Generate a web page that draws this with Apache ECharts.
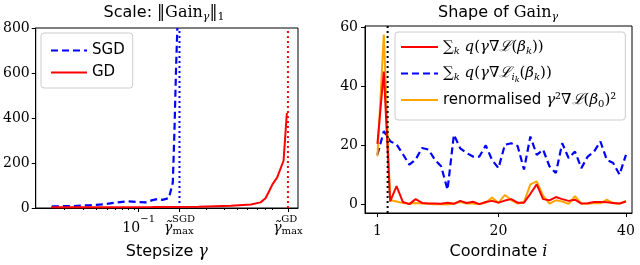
<!DOCTYPE html>
<html><head><meta charset="utf-8">
<script src="https://cdn.jsdelivr.net/npm/echarts@6/dist/echarts.min.js"></script>
<style>html,body{margin:0;padding:0;background:#fff}#c{width:640px;height:265px}</style>
</head><body><div id="c"></div>
<script>
// ---------- Left panel: Scale ||Gain||_1 vs stepsize (x stored as log10 of stepsize) ----------
const sgdLogGamma = [-1.818,-1.611,-1.472,-1.333,-1.213,-1.102,-1.009,-0.935,-0.870,-0.824,-0.778,-0.716,-0.679,-0.664,-0.648,-0.636];
const sgdGain     = [7,9,12,16,24,30,26,25,35,40,36,44,113,334,628,800];
const gdLogGamma  = [-1.827,-1.333,-0.870,-0.438,-0.130,0.056,0.148,0.194,0.234,0.259,0.303,0.364,0.395];
const gdGain      = [3,3.5,4,6,10,16,25,43,80,105,135,210,422];
const logGammaMaxSGD = -0.616;
const logGammaMaxGD  = 0.405;
const logTenMinusOne = -1;
const leftMinorTicks = [-1.699,-1.523,-1.398,-1.301,-1.222,-1.155,-1.097,-1.046,-0.368,-0.197,-0.074,0.025,0.118,0.194,0.262];
const leftYTicks = [0,200,400,600,800];

// ---------- Right panel: Shape of Gain ----------
const coords = [1,2,3,4,5,6,7,8,9,10,11,12,13,14,15,16,17,18,19,20,21,22,23,24,25,26,27,28,29,30,31,32,33,34,35,36,37,38,39,40];
const fullGrad  = [20.5,45,1.0,6.2,0.8,0.1,1.8,0.5,0.3,0.3,0.2,0.6,0.2,1.2,0.5,0.9,0.1,0.8,1.2,0.6,1.3,1.8,0.6,0.6,3.6,6.8,1.8,1.4,2.5,1.8,1.2,1.6,0.3,0.4,0.8,0.8,0.7,0.5,0.3,1.0];
const stochGrad = [16.8,24.8,21.4,20.3,17.0,13.5,15.2,19.1,18.6,15.2,12.9,5.0,23.6,19.0,17.4,16.2,16.2,20.0,15.0,12.3,20.2,20.7,19.8,11.8,23.0,16.8,18.5,12.9,10.6,20.7,15.7,17.9,12.3,16.2,17.9,21.3,15.1,14.0,10.1,16.8];
const renormGrad = [16.3,57.5,1.5,1.0,0.5,0.2,0.5,0.3,0.2,0.1,0.1,0.0,0.3,0.8,0.3,0.3,0.1,0.6,2.3,0.5,3.2,1.5,0.3,0.8,6.8,7.8,3.0,0.3,1.4,1.0,0.2,2.8,0.3,0.2,0.5,0.4,1.6,0.4,0.2,1.2];
const cutoffCoord = 2.6;
const rightXTicks = [1,20,40];
const rightYTicks = [0,20,40,60];

const serif = 'DejaVu Serif', sans = 'DejaVu Sans';
const zip = (a,b) => a.map((v,i)=>[v,b[i]]);
const near = (a,b) => Math.abs(a-b) < 1e-6;

const chart = echarts.init(document.getElementById('c'), null, {renderer:'canvas'});

const axisCommon = {
  axisLine:{show:true, onZero:false, lineStyle:{color:'#000', width:1}},
  axisTick:{show:true, length:4, lineStyle:{color:'#000', width:1}},
  splitLine:{show:false}
};
const tickFont = {fontFamily:serif, fontSize:14, color:'#000'};
const N = {fontWeight:'normal', color:'#000'};

const titleRich = {
  s:Object.assign({fontFamily:sans, fontSize:16, lineHeight:20}, N),
  m:Object.assign({fontFamily:serif, fontSize:16, lineHeight:20}, N),
  sbi:Object.assign({fontFamily:serif, fontStyle:'italic', fontSize:11, lineHeight:11, padding:[9,0,0,0]}, N),
  sb:Object.assign({fontFamily:serif, fontSize:11, lineHeight:11, padding:[9,0,0,0]}, N)
};

const legRich = {
  t:Object.assign({fontFamily:sans, fontSize:15, lineHeight:18}, N),
  m:Object.assign({fontFamily:serif, fontSize:15, lineHeight:18}, N),
  mi:Object.assign({fontFamily:serif, fontStyle:'italic', fontSize:15, lineHeight:18}, N),
  sb:Object.assign({fontFamily:serif, fontStyle:'italic', fontSize:10, lineHeight:10, padding:[8,0,0,0]}, N),
  sb0:Object.assign({fontFamily:serif, fontSize:10, lineHeight:10, padding:[8,0,0,0]}, N),
  ssb:Object.assign({fontFamily:serif, fontStyle:'italic', fontSize:8, lineHeight:8, padding:[13,0,0,0]}, N)
};
const legendText = {
  full:  '{m|∑}{sb|k}{mi| q}{m|(}{mi|γ}{m|∇}{mi|ℒ}{m|(}{mi|β}{sb|k}{m|))}',
  stoch: '{m|∑}{sb|k}{mi| q}{m|(}{mi|γ}{m|∇}{mi|ℒ}{sb|i}{ssb|k}{m|(}{mi|β}{sb|k}{m|))}',
  renorm:'{t|renormalised }{mi|γ}{m|²∇}{mi|ℒ}{m|(}{mi|β}{sb0|0}{m|)²}'
};

const xLabRich = {
  n:{fontFamily:serif, fontSize:14, color:'#000', lineHeight:13, align:'left'},
  g:{fontFamily:serif, fontStyle:'italic', fontSize:14, color:'#000', lineHeight:13, align:'left'},
  sup:{fontFamily:serif, fontSize:10, color:'#000', lineHeight:6, align:'left'},
  sub:{fontFamily:serif, fontSize:10, color:'#000', lineHeight:10, align:'left', padding:[5,0,0,0]},
  spn:{fontSize:14, width:18, lineHeight:6, align:'left'},
  spg:{fontSize:14, width:8, lineHeight:6, align:'left'}
};

const nameRich = {
  s:{fontFamily:sans, fontSize:16, color:'#000', lineHeight:18},
  mi:{fontFamily:serif, fontStyle:'italic', fontSize:16, color:'#000', lineHeight:18}
};
const legendBox = {orient:'vertical', itemHeight:14, itemGap:7,
  backgroundColor:'rgba(255,255,255,0.8)', borderColor:'#cccccc', borderWidth:1, borderRadius:3,
  itemStyle:{opacity:0, borderWidth:0}};

const option = {
  animation:false,
  backgroundColor:'#fff',
  title:[
    {text:'{s|Scale: }{m|‖Gain}{sbi|γ}{m|‖}{sb|1}', left:164, top:3, textAlign:'center', padding:0,
     textStyle:{fontWeight:'normal', rich:titleRich}},
    {text:'{s|Shape of }{m|Gain}{sbi|γ}', left:498, top:3, textAlign:'center', padding:0,
     textStyle:{fontWeight:'normal', rich:titleRich}}
  ],
  grid:[
    {left:31, right:342, top:28, bottom:56, show:true, borderColor:'#000', borderWidth:1, backgroundColor:'transparent'},
    {left:365, right:8, top:26, bottom:51, show:true, borderColor:'#000', borderWidth:1, backgroundColor:'transparent'}
  ],
  legend:[
    Object.assign({data:['SGD','GD'], left:41, top:33, itemWidth:36, itemTextGap:8, padding:[10,8,8,9],
     textStyle:{fontFamily:sans, fontSize:15, color:'#000'}}, legendBox),
    Object.assign({data:['full','stoch','renorm'], left:395, top:32, itemWidth:37, itemTextGap:11, padding:[6,9,11,5],
     formatter:name => legendText[name], textStyle:{rich:legRich}}, legendBox)
  ],
  xAxis:[
    Object.assign({}, axisCommon, {
      gridIndex:0, type:'value', min:-1.97, max:0.5, position:'bottom',
      axisTick:{show:true, length:4, lineStyle:{color:'#000'}, customValues:[logTenMinusOne, logGammaMaxSGD, logGammaMaxGD]},
      axisLabel:{customValues:[logTenMinusOne, logGammaMaxSGD, logGammaMaxGD], margin:8, rich:xLabRich,
        formatter:v => {
          if (near(v, logTenMinusOne)) return '{spn| }{sup|−1}\n{n|10}';
          if (near(v, logGammaMaxSGD)) return '{spg| }{sup|SGD}\n{g|γ̃}{sub|max}';
          if (near(v, logGammaMaxGD)) return '{spg| }{sup|GD}\n{g|γ̃}{sub|max}';
          return '';
        }},
      name:'{s|Stepsize }{mi|γ}', nameLocation:'middle', nameGap:35,
      nameTextStyle:{rich:nameRich}
    }),
    {gridIndex:0, type:'value', min:-1.97, max:0.5, position:'bottom',
     axisLine:{show:false}, axisLabel:{show:false}, splitLine:{show:false},
     axisTick:{show:true, length:2, lineStyle:{color:'#000'}, customValues:leftMinorTicks}},
    Object.assign({}, axisCommon, {
      gridIndex:1, type:'value', min:-0.95, max:40.95, position:'bottom',
      axisTick:{show:true, length:4, lineStyle:{color:'#000'}, customValues:rightXTicks},
      axisLabel:Object.assign({customValues:rightXTicks, margin:11}, tickFont),
      name:'{s|Coordinate }{mi|i}', nameLocation:'middle', nameGap:30,
      nameTextStyle:{rich:nameRich}
    })
  ],
  yAxis:[
    Object.assign({}, axisCommon, {
      gridIndex:0, type:'value', min:0, max:800, interval:200,
      axisLabel:Object.assign({margin:6}, tickFont)
    }),
    Object.assign({}, axisCommon, {
      gridIndex:1, type:'value', min:-2.9, max:60.4,
      axisTick:{show:true, length:4, lineStyle:{color:'#000'}, customValues:rightYTicks},
      axisLabel:Object.assign({customValues:rightYTicks, margin:7}, tickFont)
    })
  ],
  series:[
    {name:'SGD', type:'line', xAxisIndex:0, yAxisIndex:0, data:zip(sgdLogGamma, sgdGain), symbol:'none',
     color:'#0000ff', lineStyle:{color:'#0000ff', width:2.2, type:[7,4]}, z:3},
    {name:'GD', type:'line', xAxisIndex:0, yAxisIndex:0, data:zip(gdLogGamma, gdGain), symbol:'none',
     color:'#ff0000', lineStyle:{color:'#ff0000', width:2}, z:3},
    {name:'maxSGD', type:'line', xAxisIndex:0, yAxisIndex:0, data:[[logGammaMaxSGD,0],[logGammaMaxSGD,800]], symbol:'none',
     lineStyle:{color:'#0000ff', width:2, type:[2,3]}, z:2},
    {name:'maxGD', type:'line', xAxisIndex:0, yAxisIndex:0, data:[[logGammaMaxGD,0],[logGammaMaxGD,800]], symbol:'none',
     lineStyle:{color:'#ff0000', width:2, type:[2,3]}, z:2},
    {name:'stoch', type:'line', xAxisIndex:2, yAxisIndex:1, data:zip(coords, stochGrad), symbol:'none',
     color:'#0000ff', lineStyle:{color:'#0000ff', width:2.2, type:[7,4]}, z:2},
    {name:'renorm', type:'line', xAxisIndex:2, yAxisIndex:1, data:zip(coords, renormGrad), symbol:'none',
     color:'#ffa500', lineStyle:{color:'#ffa500', width:2}, z:3},
    {name:'full', type:'line', xAxisIndex:2, yAxisIndex:1, data:zip(coords, fullGrad), symbol:'none',
     color:'#ff0000', lineStyle:{color:'#ff0000', width:2}, z:4},
    {name:'cutoff', type:'line', xAxisIndex:2, yAxisIndex:1, data:[[cutoffCoord,-2.9],[cutoffCoord,60.4]], symbol:'none',
     lineStyle:{color:'#000', width:2, type:[2,3]}, z:5}
  ]
};
chart.setOption(option);
</script></body></html>
